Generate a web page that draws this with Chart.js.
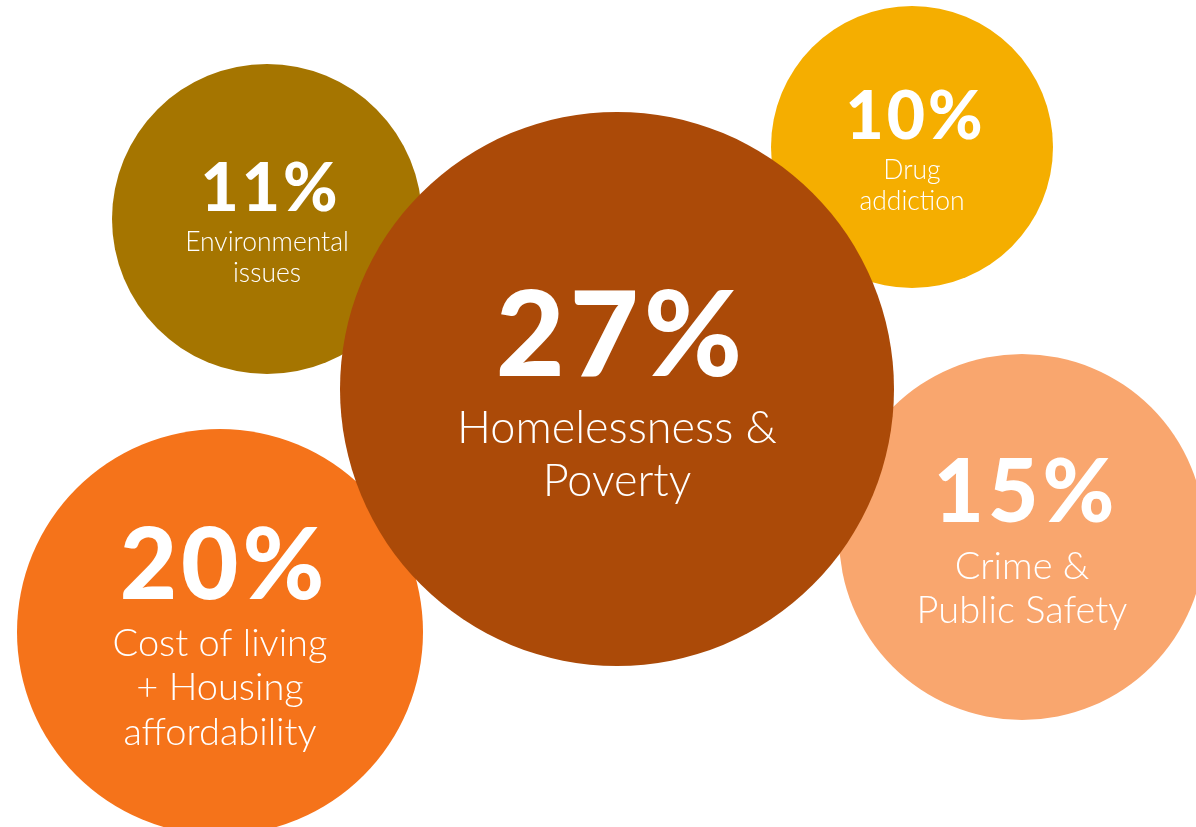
<!DOCTYPE html>
<html>
<head>
<meta charset="utf-8">
<script src="https://cdn.jsdelivr.net/npm/chart.js@4"></script>
<style>
  html, body { margin: 0; padding: 0; background: #fff; }
  #wrap { width: 1196px; height: 827px; }
</style>
</head>
<body>
<div id="wrap"><canvas id="issues-chart"></canvas></div>
<script>
// survey topics, drawn back to front (largest last so it sits on top)
var topics = [
  ["Environmental", "issues"],
  ["Drug", "addiction"],
  ["Crime &", "Public Safety"],
  ["Cost of living", "+ Housing", "affordability"],
  ["Homelessness &", "Poverty"],
];
var shares = [11, 10, 15, 20, 27];

// bubble centres and radii on the 1196 x 827 layout grid
var bubbleX = [267, 912, 1022, 220, 617];
var bubbleY = [219, 147, 537, 632, 389];
var bubbleR = [155, 141, 183, 203, 277];

var colors = ["#A57500", "#F5AE00", "#F9A66E", "#F5731A", "#AB4A08"];
var pctFont = [66, 66, 87, 99, 119];
var textFont = [26.5, 26.5, 38, 38, 45];

var points = shares.map(function (v, i) {
  return { x: bubbleX[i], y: bubbleY[i], r: bubbleR[i] };
});

var bubbleLabels = {
  id: "bubbleLabels",
  afterDatasetsDraw: function (chart) {
    var ctx = chart.ctx;
    var meta = chart.getDatasetMeta(0);
    meta.data.forEach(function (pt, i) {
      var big = pctFont[i];
      var small = textFont[i];
      var lines = topics[i];
      var cap = big * 0.72;
      var gap = small * 1.5;
      var lh = small * 1.17;
      var blockH = cap + gap + lh * (lines.length - 1);
      var top = pt.y + 4 - blockH / 2;
      var spacing = Math.round(big * 0.045);

      ctx.save();
      ctx.fillStyle = "#fff";
      ctx.textAlign = "center";
      ctx.textBaseline = "alphabetic";
      ctx.font = "900 " + big + "px Lato";
      ctx.letterSpacing = spacing + "px";
      var base = top + cap;
      ctx.fillText(shares[i] + "%", pt.x + 2 + spacing / 2, base);
      ctx.letterSpacing = "0px";
      ctx.font = "300 " + small + "px Lato";
      lines.forEach(function (t, k) {
        ctx.fillText(t, pt.x, base + gap + k * lh);
      });
      ctx.restore();
    });
  },
};

new Chart(document.getElementById("issues-chart"), {
  type: "bubble",
  data: {
    datasets: [
      {
        data: points,
        backgroundColor: colors,
        borderWidth: 0,
        hoverRadius: 0,
        clip: false,
      },
    ],
  },
  options: {
    responsive: true,
    maintainAspectRatio: false,
    animation: false,
    events: [],
    layout: { padding: 0, autoPadding: false },
    plugins: {
      legend: { display: false },
      tooltip: { enabled: false },
    },
    scales: {
      x: { type: "linear", min: 0, max: 1196, display: false },
      y: { type: "linear", min: 0, max: 827, reverse: true, display: false },
    },
  },
  plugins: [bubbleLabels],
});
</script>
</body>
</html>
